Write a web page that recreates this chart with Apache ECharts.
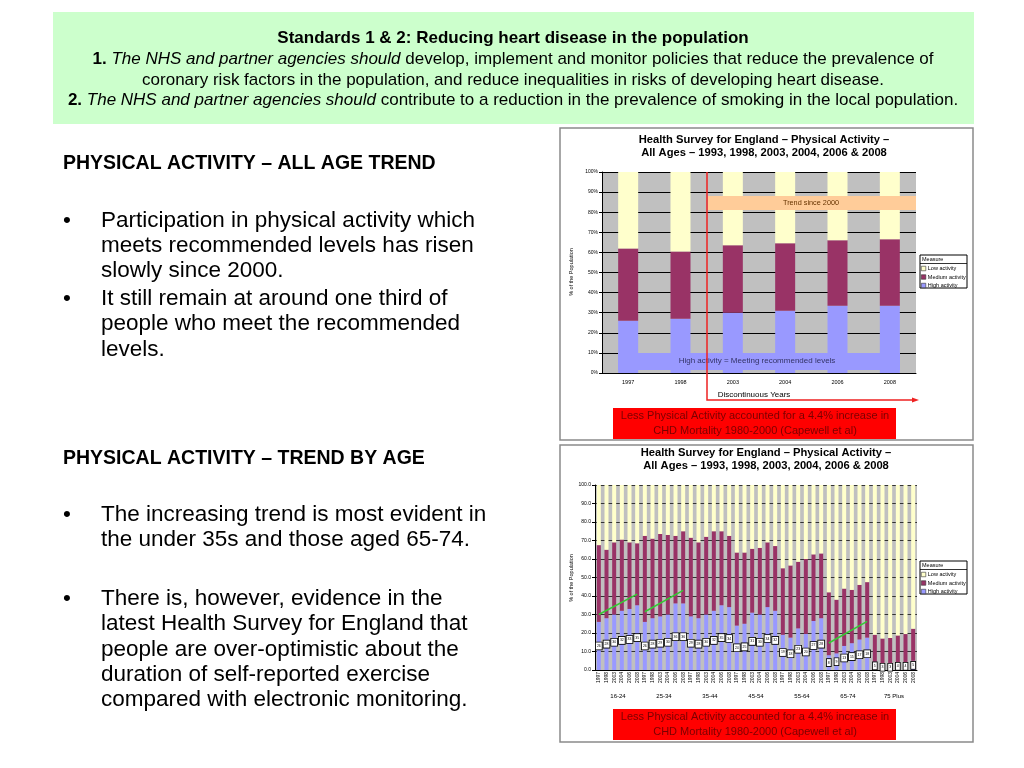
<!DOCTYPE html>
<html><head><meta charset="utf-8">
<script src="https://cdn.jsdelivr.net/npm/echarts@6/dist/echarts.min.js"></script>
<style>html,body{margin:0;padding:0;background:#fff}#c{width:1024px;height:768px}</style>
</head><body><div id="c"></div>
<script>
// ---------- DATA ----------
const topYears = ['1997', '1998', '2003', '2004', '2006', '2008'];
const topHigh   = [26, 27, 30, 31, 33.5, 33.5];
const topMedium = [36, 33.5, 33.5, 33.5, 32.5, 33];
const topLow    = [38, 39.5, 36.5, 35.5, 34, 33.5];

const ageGroups = ['16-24', '25-34', '35-44', '45-54', '55-64', '65-74', '75 Plus'];
const surveyYears = ['1997', '1998', '2003', '2004', '2006', '2008'];
// values per age group, in survey-year order
const ageHigh = [
  26, 28, 30, 32, 33, 35,
  26, 28, 29, 30, 36, 36,
  29, 28, 30, 32, 35, 34,
  24, 25, 31, 30, 34, 32,
  19, 17.5, 22.5, 19.5, 26.5, 28,
  8, 9, 13, 14.5, 16.5, 17.5,
  4.5, 3, 3, 4, 4, 5
];
const ageMedium = [
  41.5, 37, 39, 38.5, 36, 33.5,
  46.5, 43, 44.5, 43, 36.5, 39,
  42.5, 41, 42, 43, 40, 38.5,
  39.5, 38.5, 34.5, 36, 35, 35,
  36, 39, 36, 40.5, 36, 35,
  34, 29, 31, 28.8, 29.5, 30,
  14.5, 14, 14.3, 14.7, 15.4, 17.3
];
const ageLow = [
  32.5, 35, 31, 29.5, 31, 31.5,
  27.5, 29, 26.5, 27, 27.5, 25,
  28.5, 31, 28, 25, 25, 27.5,
  36.5, 36.5, 34.5, 34, 31, 33,
  45, 43.5, 41.5, 40, 37.5, 37,
  58, 62, 56, 56.7, 54, 52.5,
  81, 83, 82.7, 81.3, 80.6, 77.7
];
// green trend lines: [age group, start year, start value, end year, end value]
const trend1624 = ['16-24', '1997', 30, '2008', 41];
const trend2534 = ['25-34', '1997', 31.5, '2008', 43];
const trend6574 = ['65-74', '1997', 14.6, '2008', 26.3];

// ---------- BUILD ----------
const ageCats = [];
ageGroups.forEach(g => surveyYears.forEach(y => ageCats.push(g + '|' + y)));
function trendData(t) { return [[t[0] + '|' + t[1], t[2]], [t[0] + '|' + t[3], t[4]]]; }

const FF = '"Liberation Sans", Arial, sans-serif';
const C_LOW = '#ffffcc', C_MED = '#993366', C_HIGH = '#9999ff';

function txt(x, y, text, opt) {
  opt = opt || {};
  const st = Object.assign({
    text: text, x: x, y: y,
    fontFamily: FF, fontSize: opt.size || 12,
    fontWeight: opt.weight || 'normal', fontStyle: opt.style || 'normal',
    fill: opt.color || '#000',
    align: opt.align || 'left', textAlign: opt.align || 'left',
    verticalAlign: 'middle', textVerticalAlign: 'middle'
  }, opt.extra || {});
  return { type: 'text', z: 100, style: st };
}
function rtxt(x, y, text, opt) {
  const e = txt(0, 0, text, opt);
  e.x = x; e.y = y; e.rotation = opt.rotation;
  e.style.align = 'center'; e.style.textAlign = 'center';
  return e;
}

const graphics = [];
// Green header box
graphics.push({ type: 'rect', z: 1, shape: { x: 53, y: 12, width: 921, height: 112 }, style: { fill: '#ccffcc' } });
const HS = 17;
const richStyles = { b: { fontWeight: 'bold', fontSize: HS, fontFamily: FF }, i: { fontStyle: 'italic', fontSize: HS, fontFamily: FF } };
graphics.push(txt(513, 38, 'Standards 1 & 2: Reducing heart disease in the population', { size: HS, weight: 'bold', align: 'center' }));
graphics.push(txt(513, 59, '{b|1.} {i|The NHS and partner agencies should} develop, implement and monitor policies that reduce the prevalence of', { size: HS, align: 'center', extra: { rich: richStyles } }));
graphics.push(txt(513, 80, 'coronary risk factors in the population, and reduce inequalities in risks of developing heart disease.', { size: HS, align: 'center' }));
graphics.push(txt(513, 100, '{b|2.} {i|The NHS and partner agencies should} contribute to a reduction in the prevalence of smoking in the local population.', { size: HS, align: 'center', extra: { rich: richStyles } }));

// Left text
const BS = 22.5, HD = 19.5;
graphics.push(txt(63, 164, 'PHYSICAL ACTIVITY \u2013 ALL AGE TREND', { size: HD, weight: 'bold' }));
const b1 = [['\u2022', 'Participation in physical activity which', 221], ['', 'meets recommended levels has risen', 246], ['', 'slowly since 2000.', 271],
            ['\u2022', 'It still remain at around one third of', 299], ['', 'people who meet the recommended', 324], ['', 'levels.', 350]];
const b2 = [['\u2022', 'The increasing trend is most evident in', 515], ['', 'the under 35s and those aged 65-74.', 540],
            ['\u2022', 'There is, however, evidence in the', 599], ['', 'latest Health Survey for England that', 624], ['', 'people are over-optimistic about the', 650],
            ['', 'duration of self-reported exercise', 675], ['', 'compared with electronic monitoring.', 700]];
b1.concat(b2).forEach(l => {
  if (l[0]) graphics.push(txt(63, l[2], l[0], { size: BS }));
  graphics.push(txt(101, l[2], l[1], { size: BS }));
});
graphics.push(txt(63, 459, 'PHYSICAL ACTIVITY \u2013 TREND BY AGE', { size: HD, weight: 'bold' }));

// Chart panels (border only)
graphics.push({ type: 'rect', z: 0, shape: { x: 560, y: 128, width: 413, height: 312 }, style: { fill: 'rgba(0,0,0,0)', stroke: '#8a8a8a', lineWidth: 1.5 } });
graphics.push({ type: 'rect', z: 0, shape: { x: 560, y: 445, width: 413, height: 297 }, style: { fill: 'rgba(0,0,0,0)', stroke: '#8a8a8a', lineWidth: 1.5 } });

// Titles
const TS = 11.2;
graphics.push(txt(764, 140, 'Health Survey for England \u2013 Physical Activity \u2013', { size: TS, weight: 'bold', align: 'center' }));
graphics.push(txt(764, 152.5, 'All Ages \u2013 1993, 1998, 2003, 2004, 2006 & 2008', { size: TS, weight: 'bold', align: 'center' }));
graphics.push(txt(766, 453, 'Health Survey for England \u2013 Physical Activity \u2013', { size: TS, weight: 'bold', align: 'center' }));
graphics.push(txt(766, 466, 'All Ages \u2013 1993, 1998, 2003, 2004, 2006 & 2008', { size: TS, weight: 'bold', align: 'center' }));

// Y axis names
graphics.push(rtxt(571, 272, '% of the Population', { size: 5.5, rotation: Math.PI / 2 }));
graphics.push(rtxt(571, 578, '% of the Population', { size: 5.5, rotation: Math.PI / 2 }));

// Top annotations
graphics.push({ type: 'rect', z: 100, shape: { x: 708, y: 196, width: 208, height: 14 }, style: { fill: '#ffcc99' } });
graphics.push(txt(811, 203, 'Trend since 2000', { size: 7.3, color: '#663300', align: 'center' }));
graphics.push({ type: 'rect', z: 100, shape: { x: 618, y: 353, width: 282, height: 17 }, style: { fill: C_HIGH } });
graphics.push(txt(757, 361, 'High activity = Meeting recommended levels', { size: 8, color: '#333366', align: 'center' }));
graphics.push({ type: 'polyline', z: 100, shape: { points: [[707, 172], [707, 400], [914, 400]] }, style: { stroke: '#ee2222', lineWidth: 1.5, fill: null } });
graphics.push({ type: 'polygon', z: 100, shape: { points: [[919, 400], [912, 397.5], [912, 402.5]] }, style: { fill: '#ee2222' } });
graphics.push(txt(754, 395, 'Discontinuous Years', { size: 8, align: 'center' }));

// Red boxes
function redBox(y) {
  graphics.push({ type: 'rect', z: 100, shape: { x: 613, y: y, width: 283, height: 31 }, style: { fill: '#ff0000' } });
  graphics.push(txt(755, y + 8, 'Less Physical Activity accounted for a 4.4% increase in', { size: 11, color: '#7a0000', align: 'center' }));
  graphics.push(txt(755, y + 22.5, 'CHD Mortality 1980-2000 (Capewell et al)', { size: 11, color: '#7a0000', align: 'center' }));
}
redBox(408); redBox(709);

// Legend boxes
function legendBox(y) {
  graphics.push({ type: 'rect', z: 100, shape: { x: 920, y: y, width: 47, height: 33 }, style: { fill: '#fff', stroke: '#000', lineWidth: 1 } });
  graphics.push({ type: 'line', z: 100, shape: { x1: 920, y1: y + 8.5, x2: 967, y2: y + 8.5 }, style: { stroke: '#000', lineWidth: 0.8 } });
  graphics.push(txt(922, y + 4.5, 'Measure', { size: 5.5 }));
}
legendBox(255); legendBox(561);

const legendNames = ['Low activity', 'Medium activity', 'High activity'];
function legendCfg(top) {
  return {
    left: 921, top: top, orient: 'vertical', padding: 0, itemGap: 2.5, itemWidth: 4.5, itemHeight: 4.5,
    selectedMode: false, icon: 'rect', z: 110,
    data: legendNames.map(n => ({ name: n, itemStyle: { borderColor: '#333', borderWidth: 0.6 } })),
    textStyle: { fontSize: 5.5, fontFamily: FF, color: '#000', padding: [0, 0, 0, -3] }
  };
}

const axisTxt = { fontSize: 5.5, fontFamily: FF, color: '#000' };

const option = {
  animation: false,
  backgroundColor: '#fff',
  graphic: { elements: graphics },
  legend: [legendCfg(265.5), legendCfg(571.5)],
  grid: [
    { left: 602, top: 172, width: 314, height: 201, show: true, backgroundColor: '#c0c0c0', borderWidth: 0, outerBoundsMode: 'none', containLabel: false },
    { left: 595, top: 485, width: 322, height: 185, show: true, backgroundColor: '#c0c0c0', borderWidth: 0, outerBoundsMode: 'none', containLabel: false }
  ],
  xAxis: [
    { type: 'category', gridIndex: 0, data: topYears,
      axisLine: { lineStyle: { color: '#000', width: 1 } },
      axisTick: { length: 4, lineStyle: { color: '#000' } },
      axisLabel: Object.assign({ margin: 6 }, axisTxt) },
    { type: 'category', gridIndex: 1, data: ageCats, position: 'bottom', offset: 0,
      axisLine: { lineStyle: { color: '#000', width: 1 } },
      axisTick: { length: 18, interval: 0, lineStyle: { color: '#000' } },
      axisLabel: Object.assign({ rotate: 90, interval: 0, margin: 2, formatter: v => v.split('|')[1] }, axisTxt, { fontSize: 5 }) },
    { type: 'category', gridIndex: 1, data: ageGroups, position: 'bottom', offset: 0,
      axisLine: { show: false },
      axisTick: { length: 30, interval: 0, lineStyle: { color: '#000' } },
      axisLabel: Object.assign({ margin: 23, interval: 0 }, axisTxt, { fontSize: 6 }) }
  ],
  yAxis: [
    { type: 'value', gridIndex: 0, min: 0, max: 100, interval: 10,
      axisLine: { show: true, lineStyle: { color: '#000' } },
      axisTick: { show: true, length: 3, lineStyle: { color: '#000' } },
      splitLine: { lineStyle: { color: '#000', width: 1 } },
      axisLabel: Object.assign({ margin: 4, formatter: v => v + '%' }, axisTxt, { fontSize: 5 }) },
    { type: 'value', gridIndex: 1, min: 0, max: 100, interval: 10,
      axisLine: { show: true, lineStyle: { color: '#000' } },
      axisTick: { show: true, length: 3, lineStyle: { color: '#000' } },
      splitLine: { lineStyle: { color: '#333', width: 1 } },
      axisLabel: Object.assign({ margin: 4, formatter: v => v.toFixed(1) }, axisTxt, { fontSize: 5 }) }
  ],
  series: [
    { name: 'High activity', type: 'bar', xAxisIndex: 0, yAxisIndex: 0, stack: 'top', barWidth: 20, data: topHigh, itemStyle: { color: C_HIGH } },
    { name: 'Medium activity', type: 'bar', xAxisIndex: 0, yAxisIndex: 0, stack: 'top', barWidth: 20, data: topMedium, itemStyle: { color: C_MED } },
    { name: 'Low activity', type: 'bar', xAxisIndex: 0, yAxisIndex: 0, stack: 'top', barWidth: 20, data: topLow, itemStyle: { color: C_LOW } },

    { name: 'High activity', type: 'bar', xAxisIndex: 1, yAxisIndex: 1, stack: 'age', barWidth: 4, data: ageHigh,
      itemStyle: { color: C_HIGH },
      label: { show: true, position: 'inside', formatter: p => Math.round(p.value), fontSize: 3.5, fontFamily: FF, color: '#000',
               backgroundColor: '#fff', borderColor: '#000', borderWidth: 0.8, padding: [1.5, 1] } },
    { name: 'Medium activity', type: 'bar', xAxisIndex: 1, yAxisIndex: 1, stack: 'age', barWidth: 4, data: ageMedium, itemStyle: { color: C_MED } },
    { name: 'Low activity', type: 'bar', xAxisIndex: 1, yAxisIndex: 1, stack: 'age', barWidth: 4, data: ageLow, itemStyle: { color: C_LOW } },

    ...[trend1624, trend2534, trend6574].map(t => ({
      type: 'line', xAxisIndex: 1, yAxisIndex: 1, data: trendData(t), symbol: 'none', z: 5,
      lineStyle: { color: '#33cc33', width: 1.5 }, silent: true
    }))
  ]
};
const chart = echarts.init(document.getElementById('c'), null, { renderer: 'canvas' });
chart.setOption(option);
</script>
</body></html>
